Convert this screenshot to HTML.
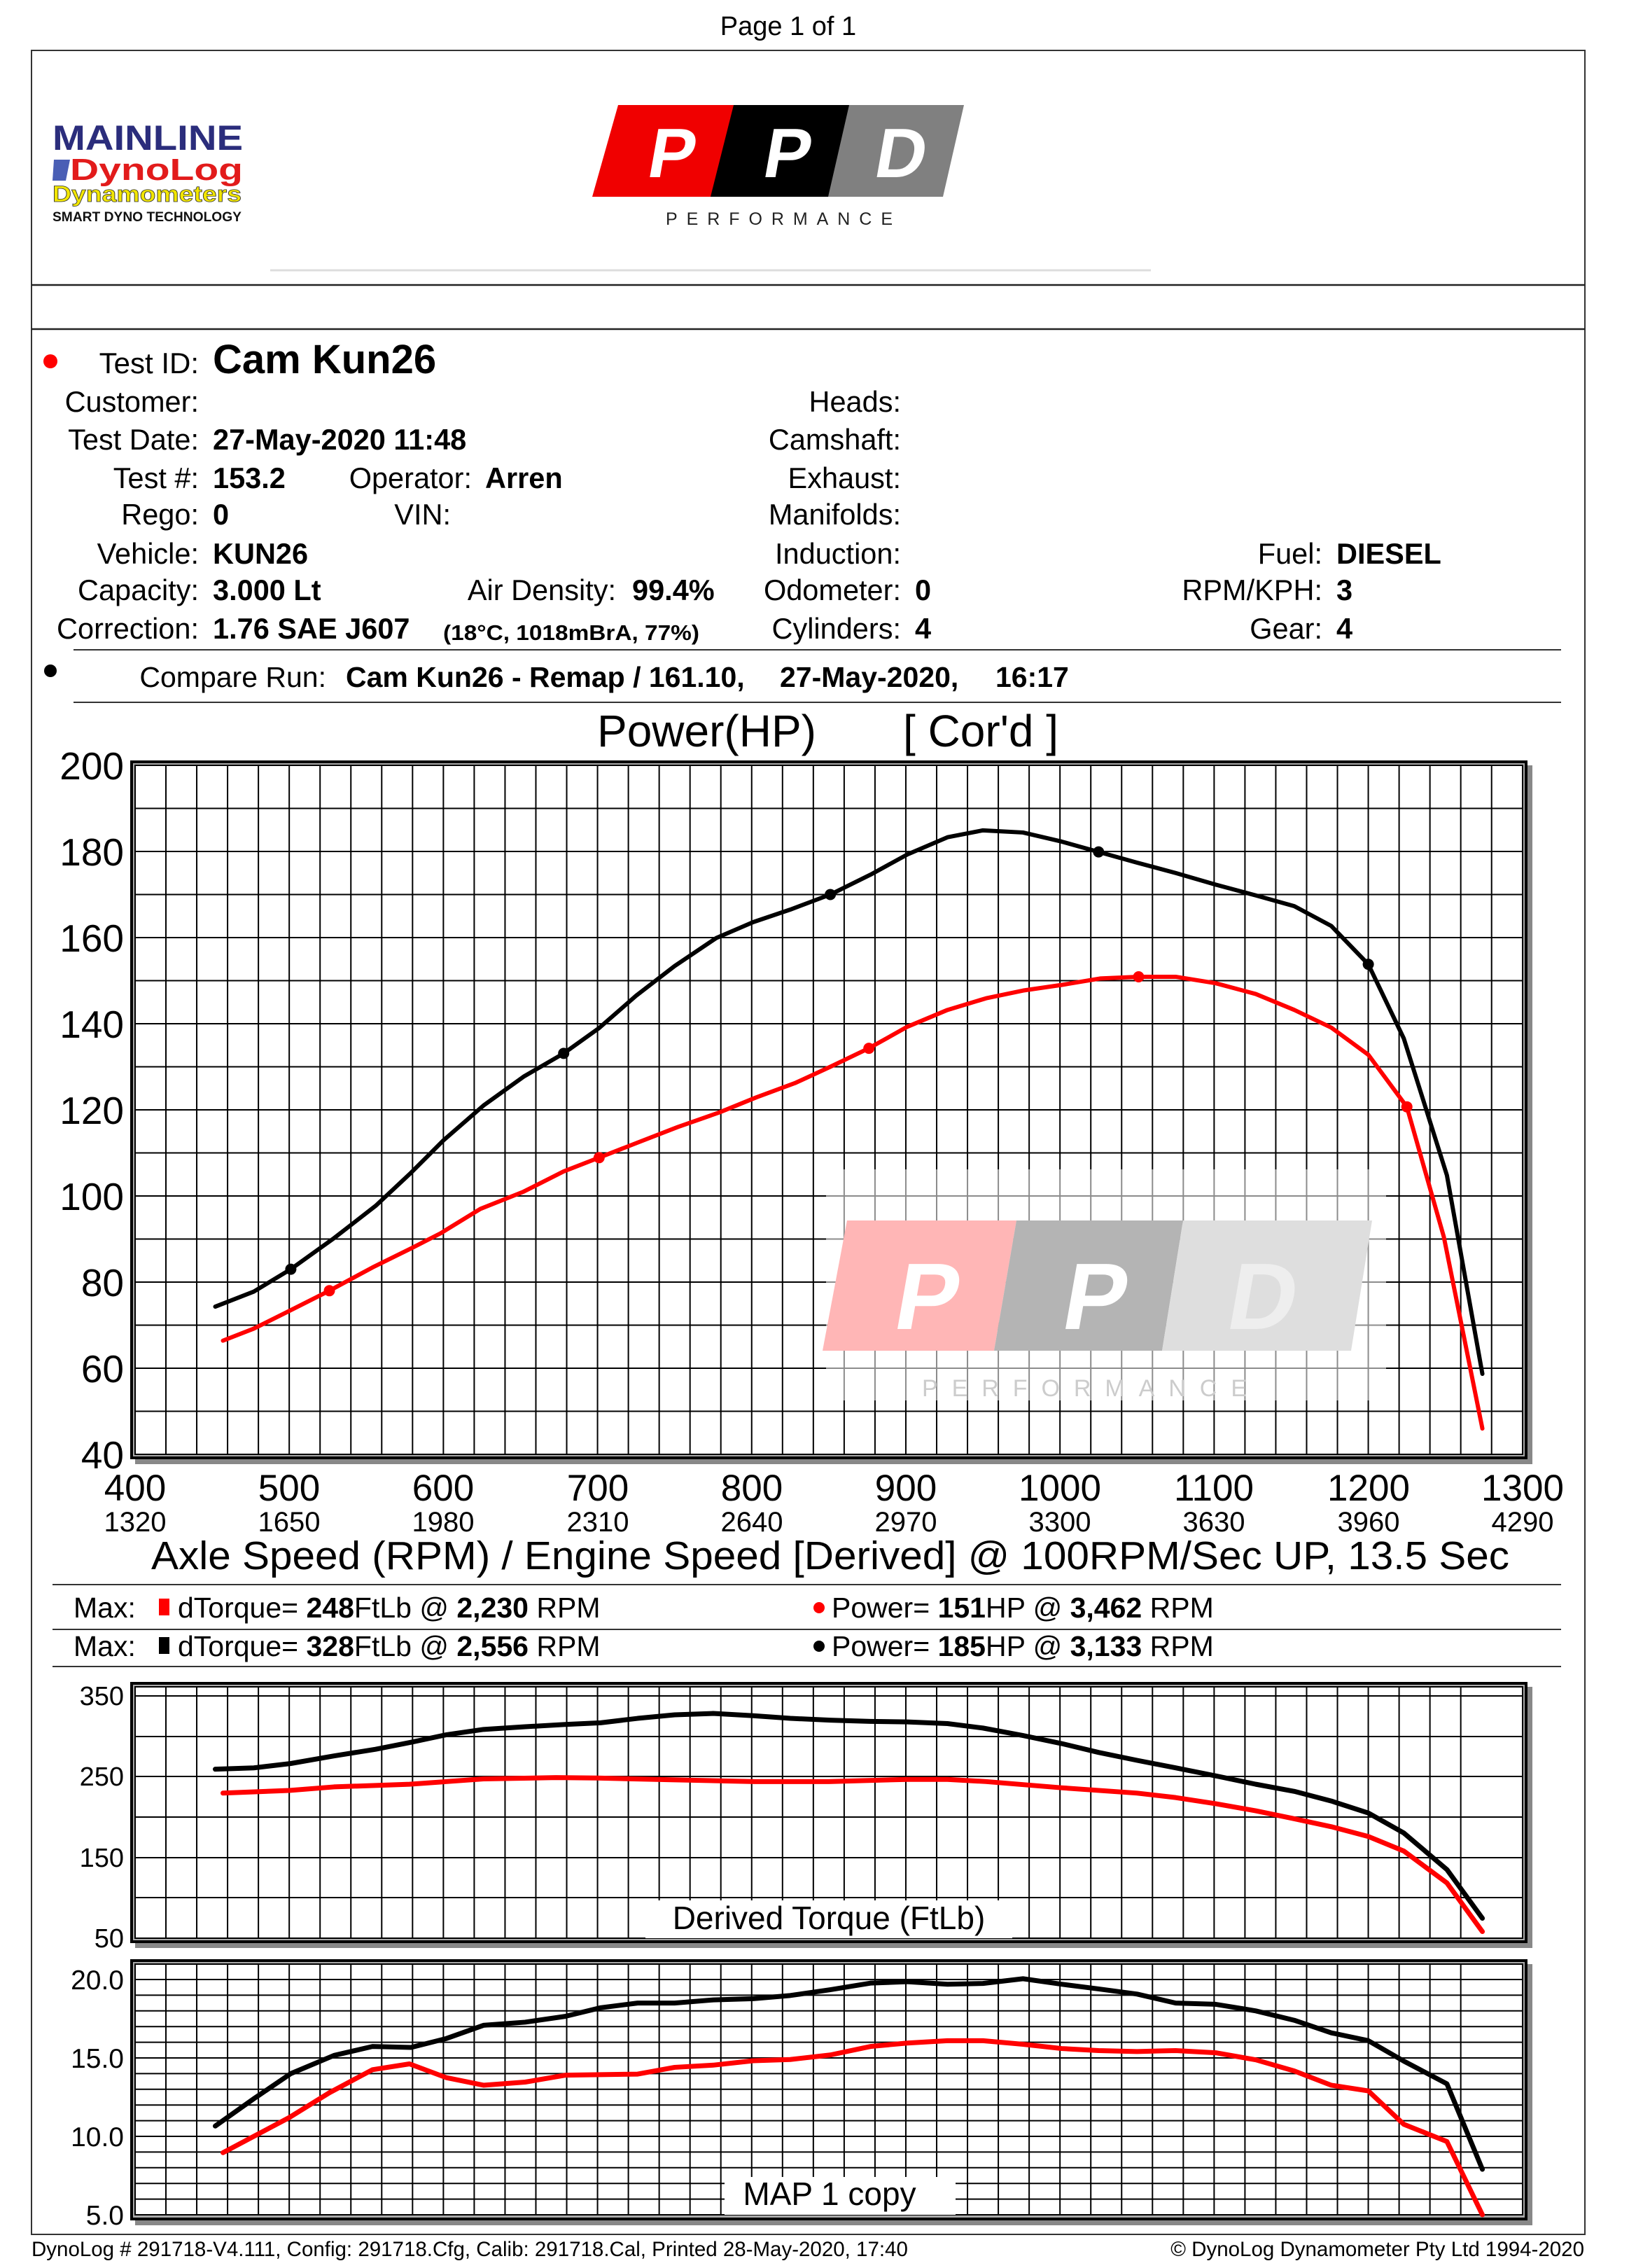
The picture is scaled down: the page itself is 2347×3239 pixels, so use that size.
<!DOCTYPE html>
<html><head><meta charset="utf-8"><style>
html,body{margin:0;padding:0;background:#fff}
svg{display:block}
text{font-family:"Liberation Sans",Arial,sans-serif}
</style></head><body>
<svg xmlns="http://www.w3.org/2000/svg" width="2347" height="3239" viewBox="0 0 2347 3239">
<rect width="2347" height="3239" fill="#fff"/>
<text x="1126" y="50" font-size="38" text-anchor="middle">Page 1 of 1</text>
<rect x="45" y="72" width="2219" height="3119" fill="none" stroke="#333" stroke-width="2"/>
<line x1="45" y1="407" x2="2264" y2="407" stroke="#222" stroke-width="2.5"/>
<line x1="45" y1="470" x2="2264" y2="470" stroke="#222" stroke-width="2.5"/>
<text x="75" y="214" font-size="50" font-weight="bold" fill="#2b2d7c" textLength="272" lengthAdjust="spacingAndGlyphs">MAINLINE</text>
<path d="M77 228 L100 228 L94 258 L75 258 Z" fill="#4a5fb5"/>
<text x="100" y="257" font-size="44" font-weight="bold" fill="#e21b1b" textLength="247" lengthAdjust="spacingAndGlyphs">DynoLog</text>
<text x="75" y="288" font-size="32" font-weight="bold" fill="#f2e600" stroke="#333" stroke-width="0.8" textLength="270" lengthAdjust="spacingAndGlyphs">Dynamometers</text>
<text x="75" y="316" font-size="19" font-weight="bold" fill="#111" textLength="270" lengthAdjust="spacingAndGlyphs">SMART DYNO TECHNOLOGY</text>
<polygon points="883,150 1052,150 1019,281 846,281" fill="#f00000"/>
<polygon points="1048,150 1217,150 1187,281 1015,281" fill="#000"/>
<polygon points="1213,150 1377,150 1347,281 1183,281" fill="#808080"/>
<g font-size="100" font-weight="bold" fill="#fff" text-anchor="middle">
<text transform="translate(955,253) skewX(-10)">P</text><text transform="translate(1120,253) skewX(-10)">P</text><text transform="translate(1282,253) skewX(-10)">D</text>
</g>
<text x="951" y="321" font-size="25" fill="#222" textLength="324" lengthAdjust="spacing">PERFORMANCE</text>
<line x1="386" y1="386" x2="1644" y2="386" stroke="#ddd" stroke-width="3"/>
<circle cx="72" cy="516" r="10" fill="#f00"/>
<text x="284" y="533" font-size="42" text-anchor="end">Test ID:</text>
<text x="304" y="533" font-size="58" font-weight="bold">Cam Kun26</text>
<g font-size="41.5">
<text x="284" y="588" text-anchor="end">Customer:</text>
<text x="284" y="642" text-anchor="end">Test Date:</text>
<text x="284" y="697" text-anchor="end">Test #:</text>
<text x="284" y="749" text-anchor="end">Rego:</text>
<text x="284" y="805" text-anchor="end">Vehicle:</text>
<text x="284" y="857" text-anchor="end">Capacity:</text>
<text x="284" y="912" text-anchor="end">Correction:</text>
<text x="674" y="697" text-anchor="end">Operator:</text>
<text x="644" y="749" text-anchor="end">VIN:</text>
<text x="880" y="857" text-anchor="end">Air Density:</text>
<text x="1287" y="588" text-anchor="end">Heads:</text>
<text x="1287" y="642" text-anchor="end">Camshaft:</text>
<text x="1287" y="697" text-anchor="end">Exhaust:</text>
<text x="1287" y="749" text-anchor="end">Manifolds:</text>
<text x="1287" y="805" text-anchor="end">Induction:</text>
<text x="1287" y="857" text-anchor="end">Odometer:</text>
<text x="1287" y="912" text-anchor="end">Cylinders:</text>
<text x="1889" y="805" text-anchor="end">Fuel:</text>
<text x="1889" y="857" text-anchor="end">RPM/KPH:</text>
<text x="1889" y="912" text-anchor="end">Gear:</text>
<g font-weight="bold">
<text x="304" y="642">27-May-2020 11:48</text>
<text x="304" y="697">153.2</text>
<text x="304" y="749">0</text>
<text x="304" y="805">KUN26</text>
<text x="304" y="857">3.000 Lt</text>
<text x="304" y="912">1.76 SAE J607</text>
<text x="693" y="697">Arren</text>
<text x="903" y="857">99.4%</text>
<text x="1307" y="857">0</text>
<text x="1307" y="912">4</text>
<text x="1909" y="805">DIESEL</text>
<text x="1909" y="857">3</text>
<text x="1909" y="912">4</text>
</g></g>
<text x="633" y="914" font-size="31" font-weight="bold" textLength="366" lengthAdjust="spacingAndGlyphs">(18°C, 1018mBrA, 77%)</text>
<line x1="105" y1="928" x2="2230" y2="928" stroke="#333" stroke-width="2"/>
<circle cx="72" cy="958" r="9" fill="#000"/>
<text x="466" y="981" font-size="41" text-anchor="end">Compare Run:</text>
<g font-size="41" font-weight="bold">
<text x="494" y="981">Cam Kun26 - Remap / 161.10,</text>
<text x="1114" y="981">27-May-2020,</text>
<text x="1422" y="981">16:17</text>
</g>
<line x1="105" y1="1003" x2="2230" y2="1003" stroke="#333" stroke-width="2"/>
<text x="853" y="1066" font-size="64">Power(HP)</text>
<text x="1290" y="1066" font-size="64">[ Cor'd ]</text>

<!-- POWER CHART -->
<rect x="193" y="1093" width="1996" height="998" fill="#888"/>
<rect x="186" y="1086" width="1996" height="998" fill="#000"/>
<rect x="190" y="1090" width="1988" height="990" fill="#aaa"/>
<rect x="193" y="1093" width="1982" height="984" fill="#fff" stroke="#000" stroke-width="2"/>
<path fill="none" stroke="#000" stroke-width="2" d="M237 1093v984m44.04-984v984m44.04-984v984m44.04-984v984m44.04-984v984m44.04-984v984m44.04-984v984m44.04-984v984m44.04-984v984m44.04-984v984m44.04-984v984m44.04-984v984m44.04-984v984m44.04-984v984m44.04-984v984m44.04-984v984m44.04-984v984m44.04-984v984m44.04-984v984m44.04-984v984m44.04-984v984m44.04-984v984m44.04-984v984m44.04-984v984m44.04-984v984m44.04-984v984m44.04-984v984m44.04-984v984m44.04-984v984m44.04-984v984m44.04-984v984m44.04-984v984m44.04-984v984m44.04-984v984m44.04-984v984m44.04-984v984m44.04-984v984m44.04-984v984m44.04-984v984m44.04-984v984m44.04-984v984m44.04-984v984m44.04-984v984m44.04-984v984"/>
<path fill="none" stroke="#000" stroke-width="2" d="M193 1154.5h1982m-1982 61.5h1982m-1982 61.5h1982m-1982 61.5h1982m-1982 61.5h1982m-1982 61.5h1982m-1982 61.5h1982m-1982 61.5h1982m-1982 61.5h1982m-1982 61.5h1982m-1982 61.5h1982m-1982 61.5h1982m-1982 61.5h1982m-1982 61.5h1982m-1982 61.5h1982"/>
<rect x="1180" y="1670" width="800" height="330" fill="#fff" opacity="0.55"/>
<polygon points="1210,1743 1452,1743 1420,1929 1175,1929" fill="#ffb6b6"/>
<polygon points="1452,1743 1690,1743 1660,1929 1420,1929" fill="#b4b4b4"/>
<polygon points="1690,1743 1960,1743 1930,1929 1660,1929" fill="#dedede"/>
<g font-size="135" font-weight="bold" text-anchor="middle">
<text transform="translate(1318,1898) skewX(-10)" fill="#fff">P</text>
<text transform="translate(1558,1898) skewX(-10)" fill="#fff">P</text>
<text transform="translate(1797,1898) skewX(-10)" fill="#eee">D</text>
</g>
<text x="1317" y="1994" font-size="34" fill="#ccc" textLength="464" lengthAdjust="spacing">PERFORMANCE</text>
<g fill="none" stroke-linejoin="round" stroke-linecap="round" transform="translate(-687.8,2323) scale(2.202,-6.15)">
<polyline vector-effect="non-scaling-stroke" stroke="#000" stroke-width="6" points="452,74.3 477,77.8 501,83 529,90.2 556,97.7 579,105.4 600,112.9 626,121 652,127.7 678,133.1 701,139 725,146.5 750,153.4 777,159.9 801,163.6 825,166.5 851,170 877,174.6 901,179.3 927,183.3 950,184.9 976,184.4 1001,182.3 1025,179.9 1050,177.4 1075,175 1101,172.3 1127,169.8 1152,167.3 1176,162.7 1200,153.8 1223,136.6 1251,104.8 1274,58.7"/>
<polyline vector-effect="non-scaling-stroke" stroke="#f00" stroke-width="6" points="457,66.4 477,69.2 500,73.3 526,78 554,83.4 580,88 598,91.3 624,97 652,101 678,105.7 701,108.9 726,112.4 752,116 779,119.4 803,122.9 828,126.2 851,130 876,134.3 901,139.3 927,143.2 952,145.9 976,147.7 1001,149 1026,150.5 1051,150.9 1075,150.9 1101,149.4 1127,146.9 1152,143.2 1176,139.1 1200,132.8 1225,120.7 1249,90.5 1274,46"/>
</g>
<g fill="#000"><circle cx="415.4" cy="1812.6" r="8"/><circle cx="805.2" cy="1504.4" r="8"/><circle cx="1186.1" cy="1277.5" r="8"/><circle cx="1569.3" cy="1216.6" r="8"/><circle cx="1954.6" cy="1377.1" r="8"/></g>
<g fill="#f00"><circle cx="470.5" cy="1843.3" r="8"/><circle cx="855.8" cy="1653.3" r="8"/><circle cx="1241.2" cy="1497.1" r="8"/><circle cx="1626.5" cy="1395" r="8"/><circle cx="2009.7" cy="1580.7" r="8"/></g>
<g font-size="55" text-anchor="end">
<text x="177" y="1113">200</text><text x="177" y="1236">180</text><text x="177" y="1359">160</text><text x="177" y="1482">140</text><text x="177" y="1605">120</text><text x="177" y="1728">100</text><text x="177" y="1851">80</text><text x="177" y="1974">60</text><text x="177" y="2097">40</text>
</g>
<g font-size="53" text-anchor="middle">
<text x="193" y="2143">400</text><text x="413" y="2143">500</text><text x="633" y="2143">600</text><text x="854" y="2143">700</text><text x="1074" y="2143">800</text><text x="1294" y="2143">900</text><text x="1514" y="2143">1000</text><text x="1734" y="2143">1100</text><text x="1955" y="2143">1200</text><text x="2175" y="2143">1300</text>
</g>
<g font-size="40" text-anchor="middle">
<text x="193" y="2187">1320</text><text x="413" y="2187">1650</text><text x="633" y="2187">1980</text><text x="854" y="2187">2310</text><text x="1074" y="2187">2640</text><text x="1294" y="2187">2970</text><text x="1514" y="2187">3300</text><text x="1734" y="2187">3630</text><text x="1955" y="2187">3960</text><text x="2175" y="2187">4290</text>
</g>
<text x="1186" y="2241" font-size="57" text-anchor="middle" textLength="1940" lengthAdjust="spacingAndGlyphs">Axle Speed (RPM) / Engine Speed [Derived] @ 100RPM/Sec UP, 13.5 Sec</text>
<line x1="75" y1="2263" x2="2230" y2="2263" stroke="#333" stroke-width="2"/>
<line x1="75" y1="2327" x2="2230" y2="2327" stroke="#333" stroke-width="2"/>
<line x1="75" y1="2380" x2="2230" y2="2380" stroke="#333" stroke-width="2"/>
<g font-size="41">
<text x="105" y="2310">Max:</text>
<rect x="227" y="2283" width="15" height="24" fill="#f00"/>
<text x="254" y="2310">dTorque= <tspan font-weight="bold">248</tspan>FtLb @ <tspan font-weight="bold">2,230</tspan> RPM</text>
<circle cx="1170" cy="2296" r="8" fill="#f00"/>
<text x="1188" y="2310">Power= <tspan font-weight="bold">151</tspan>HP @ <tspan font-weight="bold">3,462</tspan> RPM</text>
<text x="105" y="2365">Max:</text>
<rect x="227" y="2338" width="15" height="24" fill="#000"/>
<text x="254" y="2365">dTorque= <tspan font-weight="bold">328</tspan>FtLb @ <tspan font-weight="bold">2,556</tspan> RPM</text>
<circle cx="1170" cy="2351" r="8" fill="#000"/>
<text x="1188" y="2365">Power= <tspan font-weight="bold">185</tspan>HP @ <tspan font-weight="bold">3,133</tspan> RPM</text>
</g>

<!-- TORQUE CHART -->
<rect x="193" y="2409" width="1996" height="373" fill="#888"/>
<rect x="186" y="2402" width="1996" height="373" fill="#000"/>
<rect x="190" y="2406" width="1988" height="365" fill="#aaa"/>
<rect x="193" y="2409" width="1982" height="359" fill="#fff" stroke="#000" stroke-width="2"/>
<path fill="none" stroke="#000" stroke-width="2" d="M237 2409v359m44.04-359v359m44.04-359v359m44.04-359v359m44.04-359v359m44.04-359v359m44.04-359v359m44.04-359v359m44.04-359v359m44.04-359v359m44.04-359v359m44.04-359v359m44.04-359v359m44.04-359v359m44.04-359v359m44.04-359v359m44.04-359v359m44.04-359v359m44.04-359v359m44.04-359v359m44.04-359v359m44.04-359v359m44.04-359v359m44.04-359v359m44.04-359v359m44.04-359v359m44.04-359v359m44.04-359v359m44.04-359v359m44.04-359v359m44.04-359v359m44.04-359v359m44.04-359v359m44.04-359v359m44.04-359v359m44.04-359v359m44.04-359v359m44.04-359v359m44.04-359v359m44.04-359v359m44.04-359v359m44.04-359v359m44.04-359v359"/>
<path fill="none" stroke="#000" stroke-width="2" d="M193 2422h1982M193 2480h1982M193 2537h1982M193 2595h1982M193 2653h1982M193 2710h1982"/>
<rect x="922" y="2714" width="524" height="54" fill="#fff"/>
<text x="1184" y="2755" font-size="46" text-anchor="middle">Derived Torque (FtLb)</text>
<g fill="none" stroke-linejoin="round" stroke-linecap="round" transform="translate(-687.8,2825.65) scale(2.202,-1.153)">
<polyline vector-effect="non-scaling-stroke" stroke="#000" stroke-width="7" points="452,259.3 477,261 501,266.4 529,275.8 556,284 579,292.7 602,302 626,308.6 653,311.9 679,314.7 702,316.8 726,322.3 750,326.7 775,328.4 801,325.6 825,322.3 851,320.1 877,318.5 901,317.9 927,315.8 950,310.3 976,301 1001,291.1 1025,280.1 1050,270.3 1075,261 1101,251.1 1127,240.7 1152,231.9 1176,219.9 1200,205.1 1223,180.4 1251,135 1274,74.7"/>
<polyline vector-effect="non-scaling-stroke" stroke="#f00" stroke-width="7" points="457,229.7 500,233 529,237.4 578,240.7 626,247.3 673,248.9 700,248.4 748,246.2 802,244 850,244 901,246.7 927,246.7 952,244 1001,236.3 1050,229.7 1075,224.2 1101,216.6 1127,207.8 1152,197.9 1176,188.1 1200,176 1223,158 1251,118.5 1274,58.2"/>
</g>
<g font-size="38" text-anchor="end">
<text x="177" y="2435">350</text><text x="177" y="2550">250</text><text x="177" y="2666">150</text><text x="177" y="2781">50</text>
</g>

<!-- MAP CHART -->
<rect x="193" y="2805" width="1996" height="373" fill="#888"/>
<rect x="186" y="2798" width="1996" height="373" fill="#000"/>
<rect x="190" y="2802" width="1988" height="365" fill="#aaa"/>
<rect x="193" y="2805" width="1982" height="358" fill="#fff" stroke="#000" stroke-width="2"/>
<path fill="none" stroke="#000" stroke-width="2" d="M237 2805v358m44.04-358v358m44.04-358v358m44.04-358v358m44.04-358v358m44.04-358v358m44.04-358v358m44.04-358v358m44.04-358v358m44.04-358v358m44.04-358v358m44.04-358v358m44.04-358v358m44.04-358v358m44.04-358v358m44.04-358v358m44.04-358v358m44.04-358v358m44.04-358v358m44.04-358v358m44.04-358v358m44.04-358v358m44.04-358v358m44.04-358v358m44.04-358v358m44.04-358v358m44.04-358v358m44.04-358v358m44.04-358v358m44.04-358v358m44.04-358v358m44.04-358v358m44.04-358v358m44.04-358v358m44.04-358v358m44.04-358v358m44.04-358v358m44.04-358v358m44.04-358v358m44.04-358v358m44.04-358v358m44.04-358v358m44.04-358v358"/>
<path fill="none" stroke="#000" stroke-width="2" d="M193 2827h1982m-1982 22.4h1982m-1982 22.4h1982m-1982 22.4h1982m-1982 22.4h1982m-1982 22.4h1982m-1982 22.4h1982m-1982 22.4h1982m-1982 22.4h1982m-1982 22.4h1982m-1982 22.4h1982m-1982 22.4h1982m-1982 22.4h1982m-1982 22.4h1982m-1982 22.4h1982"/>
<rect x="1035" y="3109" width="330" height="54" fill="#fff"/>
<text x="1185" y="3149" font-size="46" text-anchor="middle">MAP 1 copy</text>
<g fill="none" stroke-linejoin="round" stroke-linecap="round" transform="translate(-687.8,3275) scale(2.202,-22.4)">
<polyline vector-effect="non-scaling-stroke" stroke="#000" stroke-width="7" points="452,10.66 477,12.4 501,14 529,15.16 554,15.73 579,15.67 602,16.24 626,17.08 653,17.28 679,17.65 702,18.2 726,18.5 750,18.5 775,18.7 801,18.78 825,18.98 851,19.35 877,19.77 901,19.86 927,19.7 950,19.75 976,20.05 1001,19.7 1025,19.4 1050,19.07 1075,18.5 1101,18.42 1127,18 1152,17.4 1176,16.6 1200,16.1 1223,14.8 1251,13.35 1274,7.9"/>
<polyline vector-effect="non-scaling-stroke" stroke="#f00" stroke-width="7" points="457,8.96 500,11.2 526,12.78 554,14.25 578,14.62 602,13.74 626,13.26 653,13.46 679,13.9 726,13.97 750,14.4 775,14.54 801,14.82 825,14.9 851,15.19 877,15.73 901,15.95 927,16.1 950,16.1 976,15.87 1001,15.6 1025,15.47 1050,15.41 1075,15.47 1101,15.33 1127,14.88 1152,14.17 1176,13.26 1200,12.9 1223,10.77 1251,9.67 1274,5"/>
</g>
<g font-size="39" text-anchor="end">
<text x="177" y="2841">20.0</text><text x="177" y="2953">15.0</text><text x="177" y="3065">10.0</text><text x="177" y="3177">5.0</text>
</g>
<text x="45" y="3222" font-size="29.5">DynoLog # 291718-V4.111, Config: 291718.Cfg, Calib: 291718.Cal, Printed 28-May-2020, 17:40</text>
<text x="2263" y="3222" font-size="29.5" text-anchor="end">© DynoLog Dynamometer Pty Ltd 1994-2020</text>
</svg>
</body></html>
